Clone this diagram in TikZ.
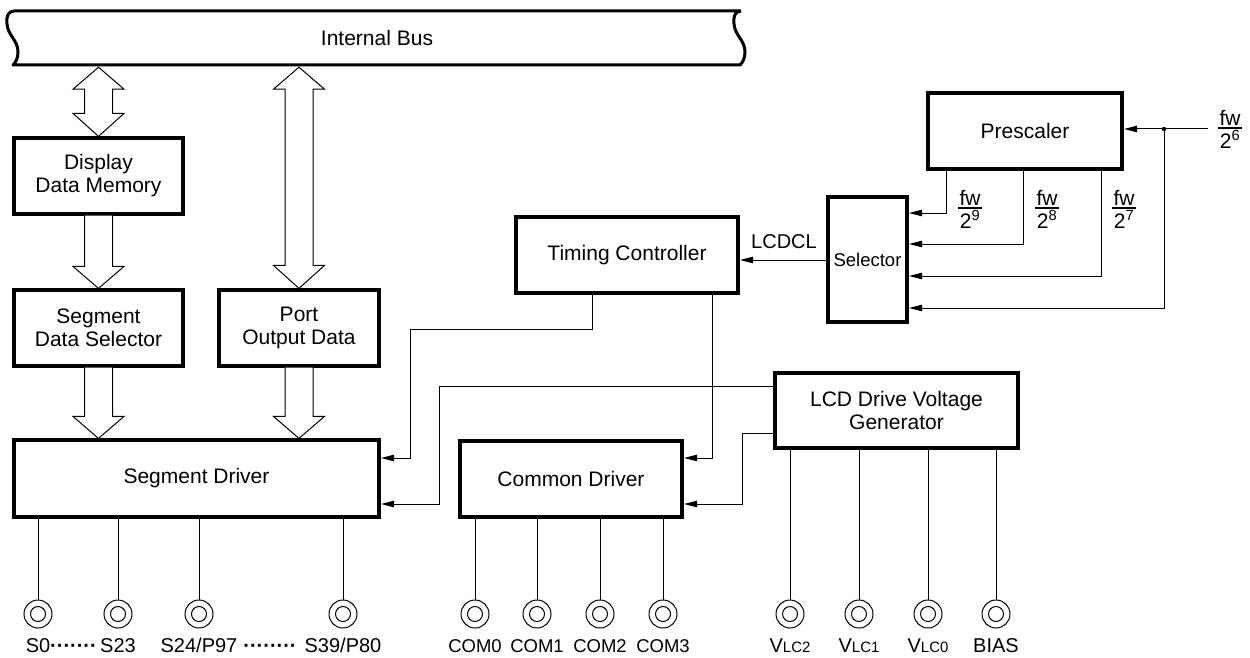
\documentclass[tikz,border=0pt]{standalone}
\usepackage{fontspec}
\setmainfont{Liberation Sans}
\usetikzlibrary{arrows.meta,calc}
\newcommand\fatdbl[2]{\draw[fat] let \p1=#1, \p2=#2 in
 (\x1,\y1) -- (\x1+25.5pt,\y1-22pt) -- (\x1+14pt,\y1-22pt) -- (\x1+14pt,\y2+23pt) -- (\x1+25.5pt,\y2+23pt) -- (\x1,\y2) -- (\x1-25.5pt,\y2+23pt) -- (\x1-14pt,\y2+23pt) -- (\x1-14pt,\y1-22pt) -- (\x1-25.5pt,\y1-22pt) -- cycle;}
\newcommand\fatdown[2]{\draw[fat] let \p1=#1, \p2=#2 in
 (\x1-14pt,\y1) -- (\x1-14pt,\y2+22pt) -- (\x1-25.5pt,\y2+22pt) -- (\x1,\y2) -- (\x1+25.5pt,\y2+22pt) -- (\x1+14pt,\y2+22pt) -- (\x1+14pt,\y1);}
% fraction fw / 2^n : #1 name, #2 position of the rule, #3 exponent
\newcommand\fwfrac[3]{%
 \coordinate (#1) at #2;
 \node[frac, anchor=south] (#1n) at ($(#1)+(0,-2.5)$) {fw};
 \node[frac, anchor=north] (#1d) at ($(#1)+(0,2.5)$) {2\textsuperscript{#3}};
 \draw[line width=1.1pt] ($(#1)+(-12,0)$) -- ($(#1)+(12,0)$);}
\tikzset{
 box/.style={draw, line width=3.2pt, inner sep=0pt, align=center, font=\fontsize{21}{23}\selectfont},
 conn/.style={line width=1pt},
 arr/.style={conn, -{Triangle[length=13pt,width=6.5pt]}, shorten >=0.5pt},
 fat/.style={line width=1pt, fill=white, line join=miter},
 pad/.style={circle, draw, line width=1pt, minimum size=28pt, inner sep=0pt,
   path picture={\draw[line width=1pt] (path picture bounding box.center) circle (7.5pt);}},
 lab/.style={font=\fontsize{20}{22}\selectfont, inner sep=0pt, anchor=base},
 comlab/.style={font=\fontsize{18.5}{22}\selectfont, inner sep=0pt, anchor=base},
 frac/.style={font=\fontsize{21}{23}\selectfont, inner sep=0pt},
}
\begin{document}
\begin{tikzpicture}[x=1pt,y=-1pt,font=\fontsize{21}{23}\selectfont]
\useasboundingbox[fill=white] (0,0) rectangle (1250,658);

% internal bus
\node[inner sep=0pt, minimum width=727pt, minimum height=54pt] (bus) at (377,38) {Internal Bus};
\draw[line width=3pt, line join=round]
 (741,11) -- (14,11) .. controls (8,11) and (6,17) .. (7,24)
 .. controls (8,36) and (18,40) .. (18,52)
 .. controls (18,58) and (16,62) .. (13,65) -- (740,65)
 .. controls (743,62) and (745,58) .. (745,52)
 .. controls (745,40) and (735,36) .. (734,24)
 .. controls (733,17) and (735,11) .. (741,11);

% boxes
\node[box, minimum width=169pt, minimum height=76pt] (ddm) at (98.5,176) {Display\\Data Memory};
\node[box, minimum width=169pt, minimum height=76pt] (sds) at (98.5,328) {Segment\\Data Selector};
\node[box, minimum width=160pt, minimum height=76pt] (pod) at (299,328) {Port\\Output Data};
\node[box, minimum width=365pt, minimum height=77pt] (sd) at (196.5,478.5) {Segment Driver};
\node[box, minimum width=222pt, minimum height=76pt] (cd) at (571,479) {Common Driver};
\node[box, minimum width=222pt, minimum height=76pt] (tc) at (627,255) {Timing Controller};
\node[box, minimum width=79pt, minimum height=125pt, font=\fontsize{18.5}{20}\selectfont] (sel) at (867.5,259.5) {Selector};
\node[box, minimum width=194pt, minimum height=76pt] (pre) at (1025,131) {Prescaler};
\node[box, minimum width=243pt, minimum height=75pt] (lcd) at (896.5,410.5) {LCD Drive Voltage\\Generator};

% fat arrows
\fatdbl{($(ddm.north|-bus.south)+(0,2)$)}{(ddm.north)}
\fatdbl{($(pod.north|-bus.south)+(0,2)$)}{(pod.north)}
\fatdown{(ddm.south)}{(ddm.south|-sds.north)}
\fatdown{(sds.south)}{(sds.south|-sd.north)}
\fatdown{(pod.south)}{(pod.south|-sd.north)}

% selector -> timing controller
\draw[arr] (sel.west|-0,260) -- (tc.east|-0,260);
\node[lab] (lcdcl) at (784,248) {LCDCL};

% prescaler input
\coordinate (in) at (1208,129);
\coordinate (jn) at (1164,129);
\draw[arr] (in) -- (pre.east|-in);
\fill (jn) circle (2.2);
\fwfrac{f6}{(1230,128)}{6}

% prescaler outputs to selector
\coordinate (o9) at (946,213);
\coordinate (o8) at (1023,244);
\coordinate (o7) at (1101,276);
\coordinate (o6) at (1164,308);
\draw[arr] (o9|-pre.south) -- (o9) -- (o9-|sel.east);
\draw[arr] (o8|-pre.south) -- (o8) -- (o8-|sel.east);
\draw[arr] (o7|-pre.south) -- (o7) -- (o7-|sel.east);
\draw[arr] (jn) -- (o6) -- (o6-|sel.east);
\fwfrac{f9}{(970,208)}{9}
\fwfrac{f8}{(1047,208)}{8}
\fwfrac{f7}{(1124,208)}{7}

% timing controller to drivers
\coordinate (t1) at (592,329);
\coordinate (t1b) at (410,458);
\draw[arr] (t1|-tc.south) -- (t1) -- (t1b|-t1) -- (t1b) -- (t1b-|sd.east);
\coordinate (t2) at (712,458);
\draw[arr] (t2|-tc.south) -- (t2) -- (t2-|cd.east);

% LCD generator to drivers
\coordinate (l1) at (439,386);
\coordinate (l1b) at (439,504);
\draw[arr] (lcd.west|-l1) -- (l1) -- (l1b) -- (l1b-|sd.east);
\coordinate (l2) at (742,433);
\coordinate (l2b) at (742,504);
\draw[arr] (lcd.west|-l2) -- (l2) -- (l2b) -- (l2b-|cd.east);

% segment pins
\foreach \n/\x in {s0/38,s23/118,s24/199,s39/343}{
  \node[pad] (\n) at (\x,614) {};
  \draw[conn] (\n) -- (\n|-sd.south);
}
\node[lab] (ls0) at (38,652) {S0};
\node[lab] (ld1) at (73.5,652) {\bfseries ·······};
\node[lab] (ls23) at (118,652) {S23};
\node[lab] (ls24) at (199,652) {S24/P97};
\node[lab] (ld2) at (270,652) {\bfseries ········};
\node[lab] (ls39) at (343,652) {S39/P80};

% common pins
\foreach \n/\x in {c0/475,c1/537,c2/600,c3/663}{
  \node[pad] (\n) at (\x,614) {};
  \draw[conn] (\n) -- (\n|-cd.south);
}
\node[comlab] (lc0) at (475,652) {COM0};
\node[comlab] (lc1) at (537,652) {COM1};
\node[comlab] (lc2) at (600,652) {COM2};
\node[comlab] (lc3) at (663,652) {COM3};

% voltage pins
\foreach \n/\x in {v2/790,v1/859,v0/928,vb/996}{
  \node[pad] (\n) at (\x,614) {};
  \draw[conn] (\n) -- (\n|-lcd.south);
}
\node[lab] (lv2) at (790,652) {V{\fontsize{15}{15}\selectfont LC2}};
\node[lab] (lv1) at (859,652) {V{\fontsize{15}{15}\selectfont LC1}};
\node[lab] (lv0) at (928,652) {V{\fontsize{15}{15}\selectfont LC0}};
\node[lab] (lvb) at (996,652) {BIAS};
\end{tikzpicture}
\end{document}
